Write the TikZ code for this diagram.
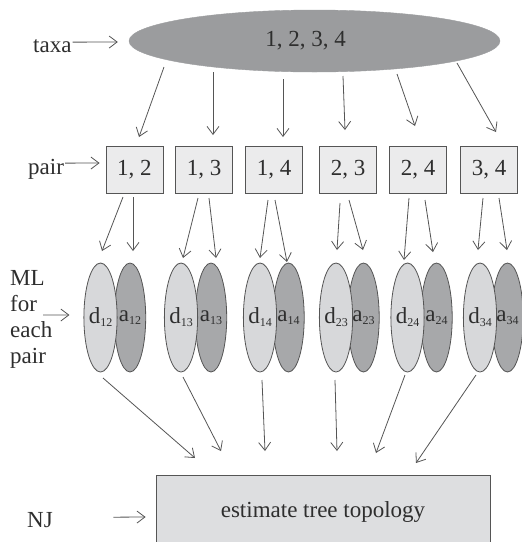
\documentclass[tikz,border=0pt]{standalone}
\usepackage{fontspec}
\setmainfont{Liberation Serif}
\usetikzlibrary{arrows.meta,shapes.geometric,calc}

\definecolor{ink}{HTML}{2E2E2E}
\definecolor{wire}{HTML}{555555}
\definecolor{bigfill}{HTML}{9B9C9E}
\definecolor{darkfill}{HTML}{A7A8AA}
\definecolor{lightfill}{HTML}{D7D8DA}
\definecolor{pairfill}{HTML}{EBEBEC}
\definecolor{njfill}{HTML}{DDDEE0}

% small subscript used inside the ML ellipses
\newcommand{\mlsub}[1]{\raisebox{-3pt}{\fontsize{12}{12}\selectfont #1}}

\tikzset{
  every node/.style={text=ink, font=\fontsize{23}{26}\selectfont},
  lbl/.style={inner sep=0pt, anchor=base west},
  arr/.style={draw=wire, line width=0.8pt, -{Straight Barb[length=8pt,width=12pt]}},
  bigell/.style={ellipse, draw=bigfill, fill=bigfill, minimum width=371pt, minimum height=62pt, inner sep=0pt},
  pairbox/.style={rectangle, draw=wire, line width=0.8pt, fill=pairfill, minimum width=57pt, minimum height=47pt, inner sep=0pt},
  dell/.style={ellipse, draw=wire, line width=0.8pt, fill=lightfill, minimum width=30pt, minimum height=109pt, inner sep=0pt},
  aell/.style={ellipse, draw=wire, line width=0.8pt, fill=darkfill, minimum width=30pt, minimum height=109pt, inner sep=0pt},
  njbox/.style={rectangle, draw=wire, line width=0.8pt, fill=njfill, minimum width=334pt, minimum height=100pt, inner sep=0pt},
}

\begin{document}
\begin{tikzpicture}[x=1pt,y=-1pt]
\useasboundingbox (0,0) rectangle (522,542);

% row labels
\node[lbl] (taxa) at (33,52) {taxa};
\node[lbl] (pairlbl) at (28,174) {pair};
\node[lbl] (ml1) at (10,285) {ML};
\node[lbl] (ml2) at (10,311) {for};
\node[lbl] (ml3) at (10,337) {each};
\node[lbl] (ml4) at (10,363) {pair};
\node[lbl] (nj) at (27,527) {NJ};

% all taxa
\node[bigell] (all) at (314.5,41) {\hspace*{-18pt}1, 2, 3, 4};

% pairs
\node[pairbox] (p12) at (134.5,169.5) {1, 2};
\node[pairbox] (p13) at (204,169.5) {1, 3};
\node[pairbox] (p14) at (274,169.5) {1, 4};
\node[pairbox] (p23) at (348,169.5) {2, 3};
\node[pairbox] (p24) at (418,169.5) {2, 4};
\node[pairbox] (p34) at (489,169.5) {3, 4};

% ML estimates for each pair (a drawn first so d overlaps it)
\node[aell] (a12) at (130,317.5) {a\mlsub{12}};
\node[dell] (d12) at (100.5,317.5) {d\mlsub{12}};
\node[aell] (a13) at (211,317.5) {a\mlsub{13}};
\node[dell] (d13) at (181,317.5) {d\mlsub{13}};
\node[aell] (a14) at (288.5,317.5) {a\mlsub{14}};
\node[dell] (d14) at (260,317.5) {d\mlsub{14}};
\node[aell] (a23) at (363.5,317.5) {a\mlsub{23}};
\node[dell] (d23) at (336,317.5) {d\mlsub{23}};
\node[aell] (a24) at (436.5,317.5) {a\mlsub{24}};
\node[dell] (d24) at (407.5,317.5) {d\mlsub{24}};
\node[aell] (a34) at (507.5,317.5) {a\mlsub{34}};
\node[dell] (d34) at (480,317.5) {d\mlsub{34}};

% neighbour joining (box runs past the lower edge; the deep strut lifts the text)
\node[njbox] (tree) at (323,525) {estimate tree topology\rule[-30pt]{0pt}{30pt}};

% label arrows
\draw[arr] ($(taxa.east)+(1,-3.5)$) -- ($(all.west)+(-11,1)$);
\draw[arr] ($(pairlbl.east)+(1,-5.7)$) -- ($(p12.west)+(-6,-6.5)$);
\draw[arr] ($(ml2.east)+(6,12)$) -- ($(d12.west)+(-14,-2.5)$);
\draw[arr] ($(nj.east)+(60.5,-2.4)$) -- ($(tree.west)+(-10,-8)$);

% taxa to pairs
\draw[arr] ($(all)+(-150.5,26)$) -- ($(p12)+(4.5,-32.5)$);
\draw[arr] ($(all)+(-101.5,31)$) -- ($(p13)+(9,-34.5)$);
\draw[arr] ($(all)+(-31.5,38)$) -- ($(p14)+(9,-32.5)$);
\draw[arr] ($(all)+(28.5,35)$) -- ($(p23)+(-3,-39.5)$);
\draw[arr] ($(all)+(82.5,33)$) -- ($(p24)+(-3,-43.5)$);
\draw[arr] ($(all)+(142.5,22)$) -- ($(p34)+(7,-37.5)$);

% pairs to ML estimates
\draw[arr] ($(p12)+(-11.5,27.5)$) -- ($(d12)+(1.5,-66.5)$);
\draw[arr] ($(p12)+(-1.5,27.5)$) -- ($(a12)+(3,-66.5)$);
\draw[arr] ($(p13)+(-6,28.5)$) -- ($(d13)+(2,-59.5)$);
\draw[arr] ($(p13)+(5,28.5)$) -- ($(a13)+(5,-59.5)$);
\draw[arr] ($(p14)+(-6,30.5)$) -- ($(d14)+(0,-59.5)$);
\draw[arr] ($(p14)+(1,30.5)$) -- ($(a14)+(-1.5,-55.5)$);
\draw[arr] ($(p23)+(-8,33.5)$) -- ($(d23)+(1,-67.5)$);
\draw[arr] ($(p23)+(1,30.5)$) -- ($(a23)+(-0.5,-67.5)$);
\draw[arr] ($(p24)+(-9,28.5)$) -- ($(d24)+(-3.5,-57.5)$);
\draw[arr] ($(p24)+(7,30.5)$) -- ($(a24)+(-3.5,-65.5)$);
\draw[arr] ($(p34)+(-6,28.5)$) -- ($(d34)+(-2,-67.5)$);
\draw[arr] ($(p34)+(10,28.5)$) -- ($(a34)+(-0.5,-67.5)$);

% ML estimates to tree estimation
\draw[arr] ($(d12)+(2.5,60.5)$) -- ($(tree)+(-128,-67)$);
\draw[arr] ($(d13)+(2,59.5)$) -- ($(tree)+(-102,-74)$);
\draw[arr] ($(d14)+(2,62.5)$) -- ($(tree)+(-58,-74)$);
\draw[arr] ($(d23)+(-1,62.5)$) -- ($(tree)+(14,-74)$);
\draw[arr] ($(d24)+(-2.5,57.5)$) -- ($(tree)+(53,-72)$);
\draw[arr] ($(d34)+(-4,57.5)$) -- ($(tree)+(93,-62)$);
\end{tikzpicture}
\end{document}
